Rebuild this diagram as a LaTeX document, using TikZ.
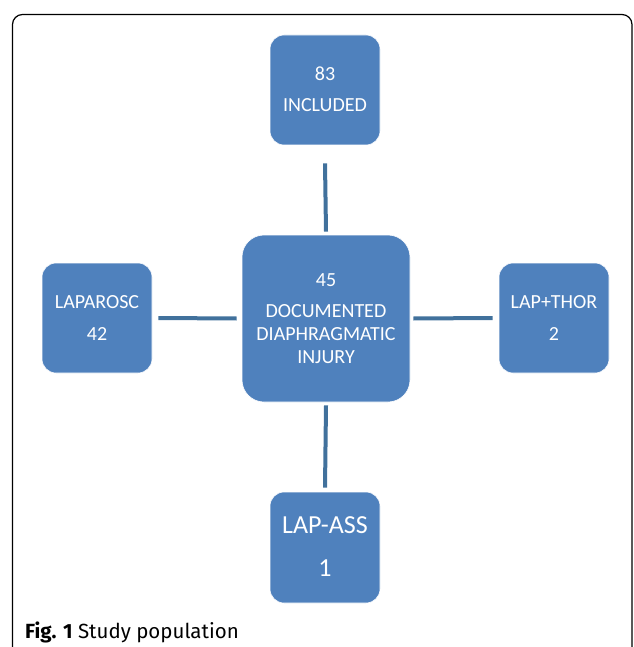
\documentclass[tikz,border=0pt]{standalone}
\usepackage{fontspec}
\setmainfont{Carlito}
\newfontfamily\capfont{Fira Sans}
\definecolor{boxblue}{HTML}{4F81BD}
\definecolor{lineblue}{HTML}{41719C}
\begin{document}
\begin{tikzpicture}[x=1pt,y=-1pt,
  bx/.style={fill=boxblue, draw=white, line width=0.6pt, rounded corners=14pt, text=white, align=center, inner sep=0pt},
  lbl/.style={text=white, font=\fontsize{20}{23}\selectfont, inner sep=0pt},
  conn/.style={lineblue, line width=4pt}]
\useasboundingbox (0,0) rectangle (633,647);
\begin{scope}
\clip (0,0) rectangle (633,647);
\draw[line width=1.2pt, rounded corners=10pt] (12.5,14.5) rectangle (632,700);
\end{scope}
% boxes
\node[bx, minimum width=110pt, minimum height=110pt] (top) at (325,90) {};
\node[bx, minimum width=168pt, minimum height=167pt, rounded corners=22pt] (mid) at (326,318.5) {};
\node[bx, minimum width=110pt, minimum height=110pt] (left) at (97,318) {};
\node[bx, minimum width=110pt, minimum height=110pt] (right) at (554,318) {};
\node[bx, minimum width=110pt, minimum height=111pt] (bot) at (325,547.5) {};
% texts
\node[lbl] (t1) at (325,74) {83};
\node[lbl] (t2) at (325,105) {INCLUDED};
\node[lbl] (m1) at (326,280) {45};
\node[lbl, align=center] (m2) at (326,334) {DOCUMENTED\\DIAPHRAGMATIC\\INJURY};
\node[lbl] (l1) at (97,302) {LAPAROSC};
\node[lbl] (l2) at (97,334) {42};
\node[lbl] (r1) at (554,302) {LAP+THOR};
\node[lbl] (r2) at (554,334) {2};
\node[lbl, font=\fontsize{26}{30}\selectfont] (b1) at (325,525) {LAP-ASS};
\node[lbl, font=\fontsize{26}{30}\selectfont] (b2) at (325,568) {1};
% connectors
\draw[conn] ([yshift=-18pt]top.south) -- ([yshift=3pt]mid.north);
\draw[conn] ([yshift=-3pt]mid.south) -- ([yshift=4pt]bot.north);
\draw[conn] ([xshift=6pt]left.east) -- ([xshift=-5pt]mid.west);
\draw[conn] ([xshift=3pt]mid.east) -- ([xshift=-6pt]right.west);
% caption
\node[anchor=base west, inner sep=0pt, font=\capfont\fontsize{20.5}{23}\selectfont] (cap) at (25,638) {\textbf{Fig. 1} Study population};
\end{tikzpicture}
\end{document}
